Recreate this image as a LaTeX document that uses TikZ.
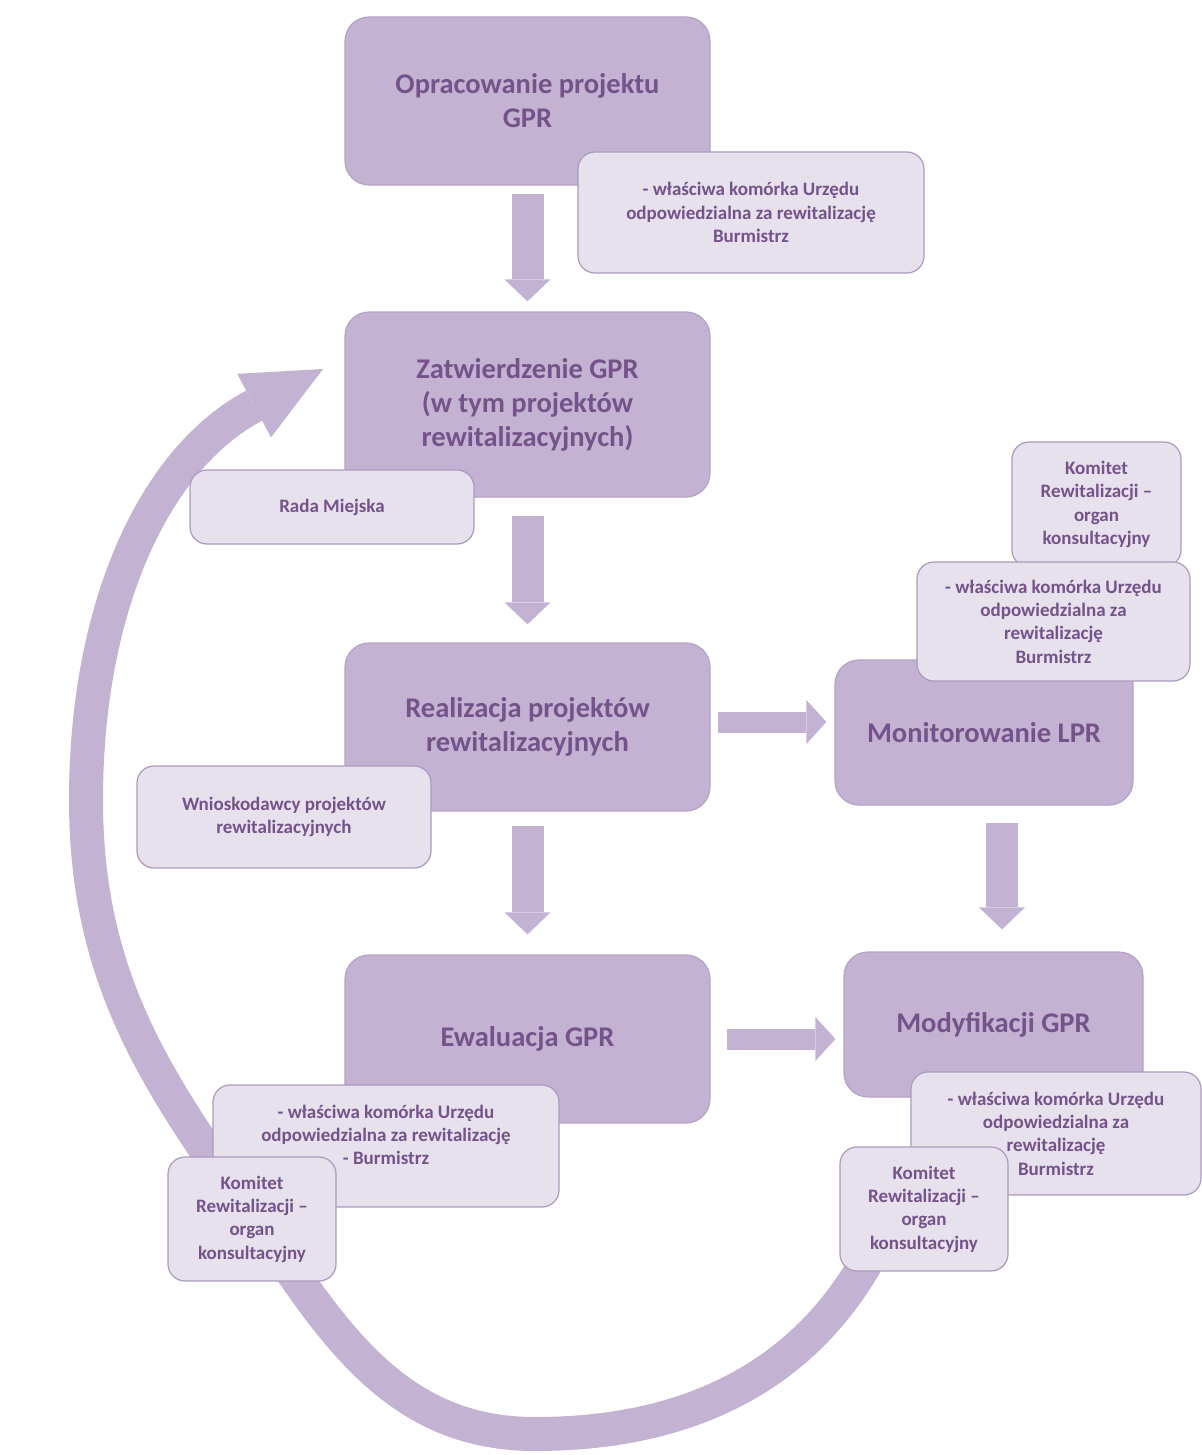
\documentclass[tikz,border=0pt]{standalone}
\usepackage{fontspec}
\setmainfont{Carlito}
\usetikzlibrary{arrows.meta}

\definecolor{stepFill}{RGB}{196,178,210}
\definecolor{stepLine}{RGB}{182,162,199}
\definecolor{noteFill}{RGB}{231,224,237}
\definecolor{noteLine}{RGB}{170,154,189}
\definecolor{labelText}{RGB}{116,82,138}

\begin{document}
\begin{tikzpicture}[x=1pt, y=1pt,
		stepbox/.style={draw=stepLine, line width=1.2pt, fill=stepFill, rounded corners=24pt, inner sep=0pt, align=center, text=labelText, font=\fontsize{28.5}{34}\selectfont\bfseries},
		notebox/.style={draw=noteLine, line width=1.2pt, fill=noteFill, rounded corners=17pt, inner sep=0pt, align=center, text=labelText, font=\fontsize{19}{23.3}\selectfont\bfseries},
		flowarrow/.style={draw=stepFill, line width=32pt, -{Triangle[width=46pt, length=22pt, line width=0pt]}},
		sidearrow/.style={draw=stepFill, line width=21pt, -{Triangle[width=44pt, length=20pt, line width=0pt]}},
		returnarrow/.style={draw=stepFill, line width=34pt, -{Triangle[width=72pt, length=78pt, line width=0pt]}}
	]
	\useasboundingbox (0,0) rectangle (1201,-1455);

	\def\colMain{527.5};
	\def\colRight{984};

	% loop back from the modification to the approval
	\coordinate (loopStart) at (882,-1232);
	\coordinate (loopEnd) at (323,-369);
	\draw [returnarrow] (loopStart) to[out=-115, in=0] (535,-1434) to[out=180, in=-55] (300,-1283) to[out=125, in=-90] (86,-800) to[out=90, in=208] (loopEnd);

	% main steps
	\node [stepbox, minimum width=365, minimum height=168] (opr) at (\colMain,-101) {Opracowanie projektu\\GPR};
	\node [stepbox, minimum width=365, minimum height=185] (zat) at (\colMain,-404.5) {Zatwierdzenie GPR\\(w tym projektów\\rewitalizacyjnych)};
	\node [stepbox, minimum width=365, minimum height=168] (rea) at (\colMain,-727) {Realizacja projektów\\rewitalizacyjnych};
	\node [stepbox, minimum width=365, minimum height=168] (ewa) at (\colMain,-1039) {Ewaluacja GPR};
	\node [stepbox, minimum width=298, minimum height=145] (mon) at (\colRight,-732.5) {Monitorowanie LPR};
	\node [stepbox, minimum width=299, minimum height=145] (mod) at (993.5,-1024.5) {Modyfikacji GPR};

	% who is responsible
	\node [notebox, minimum width=169, minimum height=125] (monKomitet) at (1096.5,-504.5) {Komitet\\Rewitalizacji --\\organ\\konsultacyjny};
	\node [notebox, minimum width=273, minimum height=119] (monUrzad) at (1053.5,-621.5) {- właściwa komórka Urzędu\\odpowiedzialna za\\rewitalizację\\Burmistrz};
	\node [notebox, minimum width=346, minimum height=121] (oprUrzad) at (751,-212.5) {- właściwa komórka Urzędu\\odpowiedzialna za rewitalizację\\Burmistrz};
	\node [notebox, minimum width=284, minimum height=74] (zatRada) at (332,-507) {Rada Miejska};
	\node [notebox, minimum width=294, minimum height=102] (reaWnio) at (284,-817) {Wnioskodawcy projektów\\rewitalizacyjnych};
	\node [notebox, minimum width=346, minimum height=122, text depth=22pt] (ewaUrzad) at (386,-1146) {- właściwa komórka Urzędu\\odpowiedzialna za rewitalizację\\- Burmistrz};
	\node [notebox, minimum width=168, minimum height=124] (ewaKomitet) at (252,-1219) {Komitet\\Rewitalizacji --\\organ\\konsultacyjny};
	\node [notebox, minimum width=290, minimum height=123] (modUrzad) at (1056,-1133.5) {- właściwa komórka Urzędu\\odpowiedzialna za\\rewitalizację\\Burmistrz};
	\node [notebox, minimum width=168, minimum height=124] (modKomitet) at (924,-1209) {Komitet\\Rewitalizacji --\\organ\\konsultacyjny};

	% flow
	\begin{scope}
		\draw [flowarrow, shorten <=8pt, shorten >=10pt] (opr) -- (zat);
		\draw [flowarrow, shorten <=18pt, shorten >=18pt] (zat) -- (rea);
		\draw [flowarrow, shorten <=14pt, shorten >=20pt] (rea) -- (ewa);
		\draw [flowarrow, shorten <=17pt, shorten >=22pt] ([xshift=18]mon.south) -- ([xshift=18]mon.south |- mod.north);
		\draw [sidearrow, shorten <=7pt, shorten >=8pt] ([yshift=5]rea.east) -- ([yshift=5]rea.east -| mon.west);
		\draw [sidearrow, shorten <=16pt, shorten >=8pt] (ewa.east) -- (ewa.east -| mod.west);
	\end{scope}

\end{tikzpicture}
\end{document}
